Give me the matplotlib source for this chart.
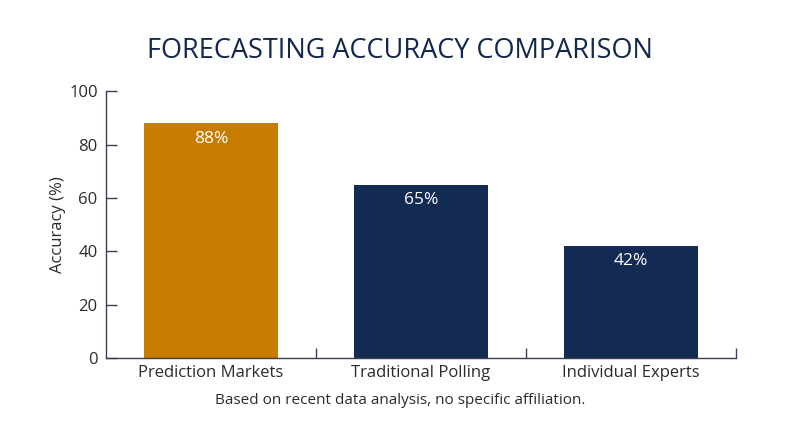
import matplotlib
matplotlib.use("Agg")
import matplotlib.pyplot as plt
from matplotlib.ticker import FixedLocator

# data
categories = ["Prediction Markets", "Traditional Polling", "Individual Experts"]
accuracy = [88, 65, 42]
bar_colors = ["#C77D02", "#132A52", "#132A52"]
y_ticks = [0, 20, 40, 60, 80, 100]

plt.rcParams['font.family'] = ['Open Sans', 'DejaVu Sans']
text_col = "#2b2b2b"
title_col = "#13284B"

fig = plt.figure(figsize=(8, 4.47), dpi=100)
ax = fig.add_axes([0.1325, 0.199, 0.7875, 0.597])

x = range(len(categories))
bars = ax.bar(x, accuracy, width=0.64, color=bar_colors)

# value labels inside the top of each bar
for b, v in zip(bars, accuracy):
    ax.text(b.get_x() + b.get_width() / 2, v - 5.8, f"{v}%", ha='center', va='center',
            color='white', fontsize=12.5)

ax.set_xlim(-0.5, 2.5)
ax.set_ylim(0, 100)
ax.set_yticks(y_ticks)
ax.set_xticks(list(x))
ax.set_xticklabels(categories)
ax.xaxis.set_minor_locator(FixedLocator([0.5, 1.5, 2.5]))

ax.tick_params(axis='x', which='major', length=0, pad=5, labelsize=12, labelcolor=text_col)
ax.tick_params(axis='x', which='minor', direction='in', length=7, width=1, color='#3a3f55')
ax.tick_params(axis='y', direction='in', length=8, width=1, color='#3a3f55',
               labelsize=12, labelcolor=text_col, pad=6)

for s in ['top', 'right']:
    ax.spines[s].set_visible(False)
for s in ['left', 'bottom']:
    ax.spines[s].set_color('#3a3f55')
    ax.spines[s].set_linewidth(1)

ax.set_ylabel("Accuracy (%)", fontsize=12, color=text_col, labelpad=2)

fig.text(0.5, 0.885, "FORECASTING ACCURACY COMPARISON", ha='center', va='center',
         fontsize=19.5, color=title_col)
fig.text(0.5, 0.105, "Based on recent data analysis, no specific affiliation.", ha='center',
         va='center', fontsize=11, color=text_col)

fig.savefig("out.png", dpi=100)
